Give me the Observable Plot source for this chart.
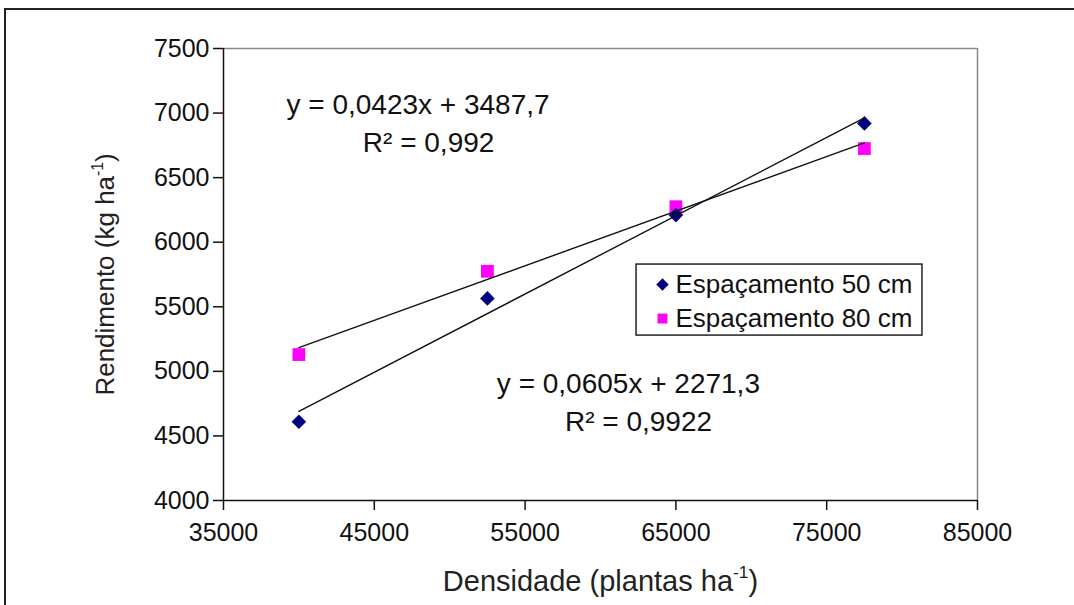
<!DOCTYPE html>
<html><head><meta charset="utf-8">
<script src="https://cdn.jsdelivr.net/npm/d3@7"></script>
<script src="https://cdn.jsdelivr.net/npm/@observablehq/plot@0.6"></script>
<style>
body{margin:0;background:#fff;}
#wrap{position:relative;width:1074px;height:605px;overflow:hidden;background:#fff;}
#border{position:absolute;left:4px;top:8px;width:1100px;height:700px;border-top:2px solid #222;border-left:2px solid #222;}
#chart{position:absolute;left:0;top:0;}
</style></head><body>
<div id="wrap"><div id="border"></div><div id="chart"></div></div>
<script>
// Data
const density = [40000, 52500, 65000, 77500];
const yield50 = [4610, 5565, 6210, 6920];
const yield80 = [5130, 5775, 6275, 6725];
const seriesNames = ["Espaçamento 50 cm", "Espaçamento 80 cm"];
const seriesColors = ["#000080", "#ff00ff"];
const xTicks = [35000, 45000, 55000, 65000, 75000, 85000];
const yTicks = [4000, 4500, 5000, 5500, 6000, 6500, 7000, 7500];
const eqText = ["y = 0,0423x + 3487,7", "R² = 0,992", "y = 0,0605x + 2271,3", "R² = 0,9922"];
const eqX = [47900, 48600, 61850, 62520];
const eqY = [7065, 6771, 4898, 4611];
const xLabel = "Densidade (plantas ha^-1)";
const yLabel = "Rendimento (kg ha^-1)";

const pts50 = density.map((x, i) => ({x, y: yield50[i]}));
const pts80 = density.map((x, i) => ({x, y: yield80[i]}));
const eqs = eqText.map((t, i) => ({t, x: eqX[i], y: eqY[i]}));
const legend = seriesNames.map((name, i) => ({name, i}));

const F = "'Liberation Sans', Arial, sans-serif";
const plot = Plot.plot({
  width: 1074, height: 605,
  marginLeft: 223, marginRight: 97, marginTop: 48, marginBottom: 105,
  style: {fontFamily: F, fontSize: "24px", background: "transparent", color: "#111"},
  x: {domain: [35000, 85000]},
  y: {domain: [4000, 7500]},
  marks: [
    Plot.ruleY([7500], {stroke: "#888", strokeWidth: 1.5}),
    Plot.ruleX([85000], {stroke: "#888", strokeWidth: 1.5}),
    Plot.ruleX([35000], {stroke: "#111", strokeWidth: 1.5}),
    Plot.ruleY([4000], {stroke: "#111", strokeWidth: 1.5}),
    Plot.axisY({ticks: yTicks, tickSize: 10, tickPadding: 4, tickFormat: d => String(d), label: null, fontSize: 25, strokeWidth: 1.5}),
    Plot.axisX({ticks: xTicks, tickSize: 10, tickPadding: 13, tickFormat: d => String(d), label: null, fontSize: 25, strokeWidth: 1.5}),
    Plot.dot(pts80, {x: "x", y: "y", symbol: "square", r: 7.2, fill: seriesColors[1]}),
    Plot.dot(pts50, {x: "x", y: "y", symbol: "diamond2", r: 6.6, fill: seriesColors[0]}),
    Plot.linearRegressionY(pts50, {x: "x", y: "y", ci: 0, stroke: "#111", strokeWidth: 1.4}),
    Plot.linearRegressionY(pts80, {x: "x", y: "y", ci: 0, stroke: "#111", strokeWidth: 1.4}),
    Plot.text(eqs, {x: "x", y: "y", text: "t", fontSize: 28, fill: "#111", textAnchor: "middle"}),
    // legend box
    Plot.rect([0], {x1: 62390, x2: 81350, y1: 5277, y2: 5827, fill: "white", stroke: "#222", strokeWidth: 1.5}),
    Plot.dot(legend.filter(d => d.i === 0), {x: 64110, y: 5672, symbol: "diamond2", r: 5.6, fill: seriesColors[0]}),
    Plot.dot(legend.filter(d => d.i === 1), {x: 64110, y: 5409, symbol: "square", r: 5.6, fill: seriesColors[1]}),
    Plot.text(legend, {x: 64970, y: d => 5672 - d.i * 263, text: "name", textAnchor: "start", fontSize: 26, fill: "#111"}),
    Plot.text([xLabel], {frameAnchor: "bottom", dy: 90, text: d => d, fontSize: 29, fill: "#222"}),
    Plot.text([yLabel], {frameAnchor: "left", dx: -118, rotate: -90, textAnchor: "middle", text: d => d, fontSize: 26, fill: "#222"})
  ]
});

// superscripts for "^-1"
d3.select(plot).selectAll("text").each(function() {
  const t = this.textContent;
  if (t.includes("^")) {
    const m = t.match(/^(.*)\^(\S+?)(\))$/);
    const el = d3.select(this);
    el.text(m[1]);
    el.append("tspan").attr("font-size", "0.6em").attr("dy", "-0.7em").text(m[2]);
    el.append("tspan").attr("dy", "0.42em").text(m[3]);
  }
});
document.getElementById("chart").appendChild(plot);
</script>
</body></html>
